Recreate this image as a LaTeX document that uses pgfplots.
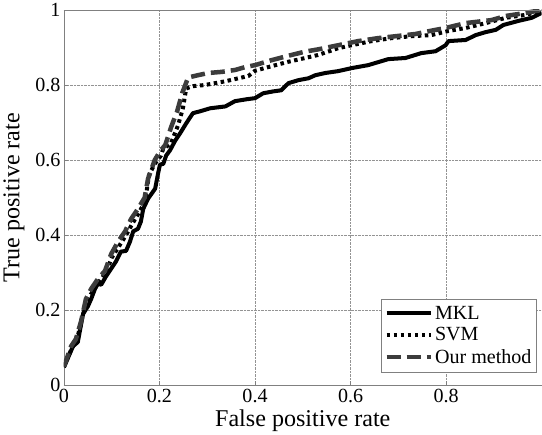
\documentclass[border=0pt]{standalone}
\usepackage{fontspec}
\setmainfont{Liberation Serif}
\usepackage{pgfplots}
\pgfplotsset{compat=1.18}
\definecolor{ourgray}{RGB}{60,60,60}

\begin{document}
\begin{tikzpicture}
\begin{axis}[
  scale only axis, width=476pt, height=374pt,
  xmin=0, xmax=1, ymin=0, ymax=1,
  xtick={0,0.2,0.4,0.6,0.8}, ytick={0,0.2,0.4,0.6,0.8,1},
  xticklabels={0,0.2,0.4,0.6,0.8},
  yticklabels={0,0.2,0.4,0.6,0.8,1},
  axis x line*=bottom, axis y line*=left,
  axis line style={gray, line width=0.8pt, -},
  tick style={gray, line width=0.6pt}, tick align=inside, major tick length=4pt,
  xmajorgrids, ymajorgrids,
  grid style={densely dotted, gray!85, line width=0.5pt},
  tick label style={font=\fontsize{20}{22}\selectfont},
  label style={font=\fontsize{24}{28}\selectfont},
  xlabel={False positive rate}, ylabel={True positive rate},
  xlabel style={yshift=0pt}, ylabel style={yshift=4pt},
  legend style={at={(rel axis cs:0.99,0.035)}, anchor=south east,
    draw=gray, line width=0.6pt, font=\fontsize{20}{22}\selectfont,
    row sep=3pt, inner xsep=3pt, inner ysep=5pt, fill=white},
  legend cell align=left,
  legend image code/.code={\draw[#1] (0pt,0pt) -- (44pt,0pt);},
]
\addplot[black, line width=4pt, line join=round] coordinates {
(0,0.048) (0.019,0.104) (0.029,0.115) (0.040,0.19) (0.050,0.21) (0.057,0.23)
(0.065,0.257) (0.071,0.27) (0.078,0.268) (0.088,0.29) (0.109,0.33) (0.119,0.356)
(0.130,0.358) (0.138,0.382) (0.145,0.41) (0.155,0.417) (0.161,0.436) (0.166,0.47)
(0.176,0.497) (0.191,0.524) (0.197,0.564) (0.201,0.588) (0.208,0.59) (0.214,0.612)
(0.222,0.626) (0.233,0.652) (0.243,0.671) (0.256,0.698) (0.270,0.725) (0.285,0.73)
(0.306,0.738) (0.338,0.743) (0.358,0.757) (0.382,0.762) (0.400,0.765) (0.417,0.778)
(0.438,0.783) (0.455,0.786) (0.470,0.805) (0.491,0.813) (0.512,0.818) (0.526,0.826)
(0.547,0.832) (0.574,0.837) (0.602,0.845) (0.637,0.853) (0.679,0.869) (0.715,0.872)
(0.748,0.885) (0.778,0.890) (0.799,0.906) (0.805,0.917) (0.841,0.92) (0.862,0.933)
(0.883,0.941) (0.904,0.947) (0.920,0.96) (0.952,0.971) (0.979,0.979) (1.0,0.992)
};
\addplot[black, line width=4pt, dash pattern=on 3.5pt off 3.5pt] coordinates {
(0,0.05) (0.017,0.1) (0.027,0.12) (0.038,0.18) (0.048,0.225) (0.06,0.25)
(0.073,0.275) (0.088,0.30) (0.10,0.34) (0.115,0.37) (0.13,0.40) (0.143,0.43)
(0.157,0.46) (0.17,0.49) (0.178,0.56) (0.19,0.59) (0.203,0.612) (0.208,0.631)
(0.218,0.639) (0.224,0.645) (0.239,0.693) (0.249,0.738) (0.256,0.791) (0.27,0.797)
(0.295,0.80) (0.338,0.81) (0.386,0.824) (0.40,0.838) (0.434,0.85) (0.47,0.862)
(0.505,0.872) (0.532,0.88) (0.574,0.898) (0.602,0.906) (0.644,0.917) (0.686,0.925)
(0.727,0.93) (0.769,0.933) (0.805,0.944) (0.841,0.952) (0.883,0.965) (0.925,0.979)
(0.966,0.987) (1.0,0.997)
};
\addplot[ourgray, line width=4.5pt, dash pattern=on 14pt off 6pt] coordinates {
(0,0.05) (0.015,0.104) (0.025,0.123) (0.036,0.171) (0.046,0.23) (0.057,0.257)
(0.071,0.283) (0.086,0.305) (0.099,0.35) (0.113,0.382) (0.128,0.41) (0.141,0.444)
(0.155,0.47) (0.169,0.50) (0.176,0.55) (0.190,0.60) (0.202,0.625) (0.212,0.64)
(0.225,0.69) (0.237,0.73) (0.248,0.78) (0.26,0.82) (0.28,0.826) (0.302,0.832)
(0.33,0.835) (0.358,0.84) (0.38,0.848) (0.40,0.853) (0.434,0.866) (0.476,0.88)
(0.505,0.889) (0.532,0.895) (0.574,0.906) (0.616,0.917) (0.658,0.925) (0.694,0.93)
(0.736,0.936) (0.77,0.945) (0.799,0.952) (0.841,0.965) (0.895,0.973) (0.925,0.984)
(0.966,0.992) (1.0,1.0)
};
\legend{MKL, SVM, Our method}
\draw[gray, line width=0.8pt] (rel axis cs:0,1) -- (rel axis cs:1,1);
\end{axis}
\end{tikzpicture}
\end{document}
